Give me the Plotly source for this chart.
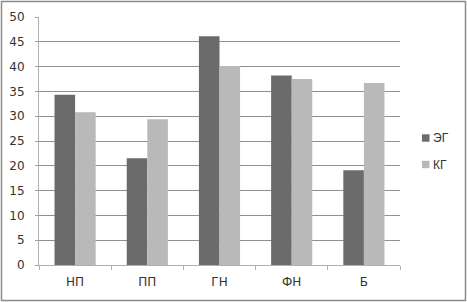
import plotly.graph_objects as go

categories = ["НП", "ПП", "ГН", "ФН", "Б"]
eg_values = [34.3, 21.5, 46.1, 38.2, 19.1]
kg_values = [30.8, 29.4, 40.1, 37.5, 36.7]
y_ticks = [0, 5, 10, 15, 20, 25, 30, 35, 40, 45, 50]
series_names = ["ЭГ", "КГ"]
series_colors = ["#6b6b6b", "#b9b9b9"]

L, R, T, B = 39, 67, 17, 37
W, H = 467, 302
pw, ph = W - L - R, H - T - B

fig = go.Figure()
for name, vals, col in zip(series_names, [eg_values, kg_values], series_colors):
    fig.add_trace(go.Bar(name=name, x=categories, y=vals, showlegend=False,
                         marker=dict(color=col, line=dict(width=0)), hoverinfo="skip"))

def px2x(p):
    return (p - L) / pw

def px2y(p):
    return (H - B - p) / ph

shapes = [dict(type="rect", xref="paper", yref="paper",
               x0=px2x(1.5), x1=px2x(465.5), y0=px2y(300.5), y1=px2y(1.5),
               line=dict(color="#8a8a8a", width=1.5))]
annotations = []
for i, (name, col) in enumerate(zip(series_names, series_colors)):
    cy = 138 + i * 26.5
    shapes.append(dict(type="rect", xref="paper", yref="paper",
                       x0=px2x(422), x1=px2x(429.5), y0=px2y(cy + 3.7), y1=px2y(cy - 3.7),
                       fillcolor=col, line=dict(width=0)))
    annotations.append(dict(text=name, xref="paper", yref="paper", x=px2x(430.5), y=px2y(cy),
                            xanchor="left", yanchor="middle", showarrow=False,
                            font=dict(family="Liberation Sans", size=12, color="#333333")))

fig.update_layout(
    width=W, height=H,
    margin=dict(l=L, r=R, t=T, b=B, autoexpand=False),
    paper_bgcolor="white", plot_bgcolor="white",
    barmode="group", bargap=0.43, bargroupgap=0,
    font=dict(family="DejaVu Sans", size=12, color="#333333"),
    showlegend=False,
    shapes=shapes, annotations=annotations,
)
fig.update_yaxes(range=[0, 50], tickvals=y_ticks, showgrid=True, gridcolor="#909090",
                 gridwidth=1, showline=True, linecolor="#b0b0b0", linewidth=1,
                 ticks="outside", ticklen=3, tickcolor="#a0a0a0", zeroline=False,
                 ticklabelstandoff=8,
                 tickfont=dict(family="DejaVu Sans", size=12, color="#333333"))
fig.update_xaxes(showline=True, linecolor="#b0b0b0", linewidth=1, ticks="outside",
                 tickson="boundaries", ticklen=4, tickcolor="#b0b0b0",
                 ticklabelstandoff=6,
                 tickfont=dict(family="DejaVu Sans", size=12, color="#333333"))

fig.write_html("out.html", config={"displayModeBar": False},
               post_script="document.body.style.margin='0';document.body.style.overflow='hidden';")
